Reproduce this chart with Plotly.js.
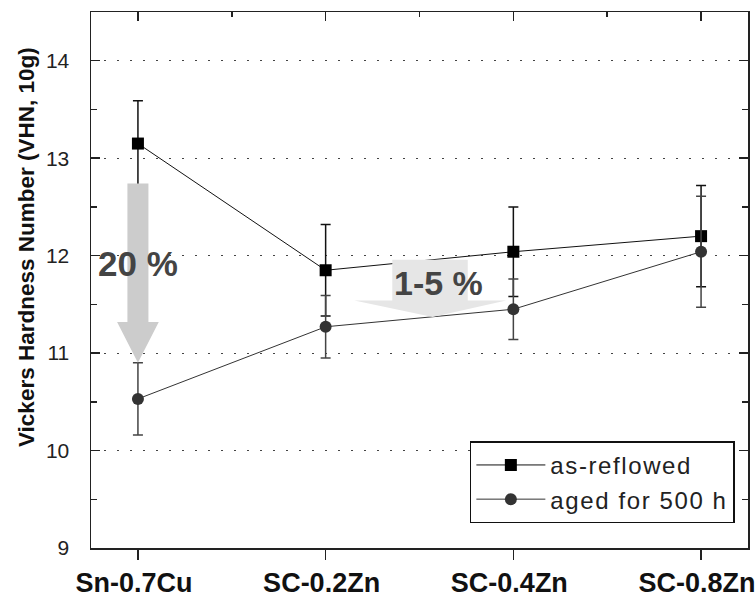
<!DOCTYPE html>
<html>
<head>
<meta charset="utf-8">
<script src="https://cdn.plot.ly/plotly-3.0.1.min.js"></script>
<style>
  html, body { margin: 0; padding: 0; background: #fff; }
  #chart { width: 756px; height: 603px; }
</style>
</head>
<body>
<div id="chart"></div>
<script>
// ---- data ----
const categories = ['Sn-0.7Cu', 'SC-0.2Zn', 'SC-0.4Zn', 'SC-0.8Zn'];
const asReflowed = [13.15, 11.85, 12.04, 12.20];
const asReflowedErr = [0.44, 0.47, 0.46, 0.52];
const aged = [10.53, 11.27, 11.45, 12.04];
const agedErr = [0.37, 0.32, 0.31, 0.57];
const seriesNames = ['as-reflowed', 'aged for 500 h'];
const yTicks = [9, 10, 11, 12, 13, 14];
const yTitle = 'Vickers Hardness Number (VHN, 10g)';

const xIdx = categories.map((c, i) => i);
const FONT = 'Arial, "Liberation Sans", sans-serif';
const spaced = s => '<span style="letter-spacing:1.6px">' + s + '</span>';

const traces = [
  {
    x: xIdx, y: asReflowed, name: spaced(seriesNames[0]), type: 'scatter', mode: 'lines+markers',
    line: { color: '#111', width: 1 },
    marker: { symbol: 'square', size: 12, color: '#000' },
    error_y: { type: 'data', array: asReflowedErr, visible: true, color: '#111', thickness: 1.5, width: 5 }
  },
  {
    x: xIdx, y: aged, name: spaced(seriesNames[1]), type: 'scatter', mode: 'lines+markers',
    line: { color: '#333', width: 1 },
    marker: { symbol: 'circle', size: 12, color: '#333' },
    error_y: { type: 'data', array: agedErr, visible: true, color: '#444', thickness: 1.5, width: 5 }
  },
  { x: [], y: [], xaxis: 'x2', yaxis: 'y', showlegend: false, hoverinfo: 'skip', type: 'scatter' }
];

// decorative arrows (annotation geometry)
function arrowDown(cx, yTop, yNeck, yTip, halfShaft, halfHead) {
  return `M${cx - halfShaft},${yTop} L${cx + halfShaft},${yTop} L${cx + halfShaft},${yNeck} ` +
         `L${cx + halfHead},${yNeck} L${cx},${yTip} L${cx - halfHead},${yNeck} L${cx - halfShaft},${yNeck} Z`;
}
const arrow2 = `M1.355,11.957 L1.757,11.957 L1.757,11.54 L1.962,11.54 L1.57,11.37 L1.153,11.54 L1.355,11.54 Z`;

const layout = {
  width: 756, height: 603,
  margin: { l: 91, r: 8, t: 12, b: 55 },
  paper_bgcolor: '#fff', plot_bgcolor: '#fff',
  font: { family: FONT, color: '#222' },
  showlegend: true,
  xaxis: {
    type: 'linear', range: [-0.25, 3.25],
    tickmode: 'array', tickvals: xIdx, ticktext: categories,
    ticks: 'outside', ticklen: 10, tickwidth: 1.5, tickcolor: '#222',
    showline: true, linewidth: 1.5, linecolor: '#222', mirror: true,
    showgrid: false, zeroline: false,
    tickfont: { family: FONT, size: 27, weight: 700, color: '#111' },
    ticklabelstandoff: 0, ticklabelshift: -4, ticklabeloverflow: 'allow'
  },
  xaxis2: {
    type: 'linear', range: [-0.25, 3.25], overlaying: 'x', side: 'top', anchor: 'y',
    tickmode: 'linear', tick0: 0, dtick: 1,
    ticks: 'inside', ticklen: 9, tickwidth: 1.5, tickcolor: '#222',
    minor: { dtick: 0.5, ticklen: 5, tickwidth: 1.5, ticks: 'inside', tickcolor: '#222' },
    showticklabels: false, showgrid: false, zeroline: false, showline: false
  },
  yaxis: {
    range: [9, 14.5], tickmode: 'array', tickvals: yTicks,
    ticks: 'inside', ticklen: 9, tickwidth: 1.5, tickcolor: '#222',
    minor: { dtick: 0.5, tick0: 9, ticklen: 6, tickwidth: 1.5, ticks: 'inside', tickcolor: '#222', showgrid: false },
    showline: true, linewidth: 1.5, linecolor: '#222', mirror: 'ticks',
    showgrid: true, gridcolor: '#444', gridwidth: 1, griddash: '2px,11px',
    zeroline: false,
    tickfont: { family: FONT, size: 21, color: '#222' },
    ticklabelstandoff: 16
  },
  legend: {
    x: 0.98, xanchor: 'right', y: 0.046, yanchor: 'bottom',
    bgcolor: '#fff', bordercolor: '#111', borderwidth: 1.5,
    font: { family: FONT, size: 24, color: '#222' },
    itemwidth: 69, tracegroupgap: 0
  },
  shapes: [
    { type: 'path', xref: 'x', yref: 'y', path: arrowDown(0, 12.74, 11.32, 10.90, 0.056, 0.111),
      fillcolor: '#cccccc', line: { width: 0 }, layer: 'above' },
    { type: 'path', xref: 'x', yref: 'y', path: arrow2,
      fillcolor: '#e6e6e6', line: { width: 0 }, layer: 'above' }
  ],
  annotations: [
    { x: -0.0974, y: 0.5616, xref: 'paper', yref: 'paper', text: yTitle, textangle: -90, showarrow: false,
      xanchor: 'center', yanchor: 'middle',
      font: { family: FONT, size: 22.5, weight: 700, color: '#111' } },
    { x: 0, y: 11.92, xref: 'x', yref: 'y', text: '20 %', showarrow: false,
      font: { family: FONT, size: 35, weight: 700, color: '#444' } },
    { x: 1.6, y: 11.72, xref: 'x', yref: 'y', text: '1-5 %', showarrow: false,
      font: { family: FONT, size: 34, weight: 700, color: '#444' } }
  ]
};

Plotly.newPlot('chart', traces, layout, { displayModeBar: false, staticPlot: true });
</script>
</body>
</html>
